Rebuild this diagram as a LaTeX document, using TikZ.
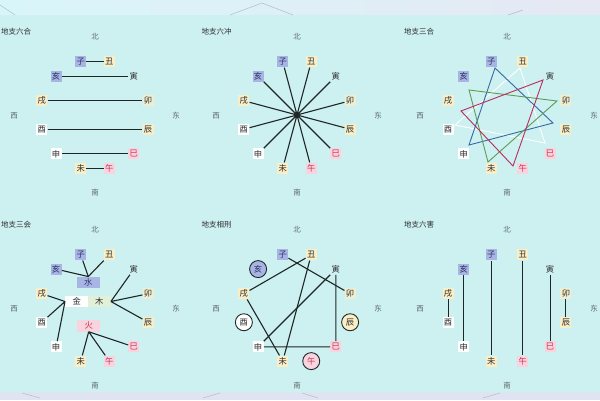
\documentclass[tikz,border=0pt]{standalone}
\usepackage{fontspec}
\setmainfont{Noto Sans CJK SC}

\definecolor{bgcol}{RGB}{205,240,240}
\definecolor{bandA}{RGB}{216,246,250}
\definecolor{bandB}{RGB}{230,232,244}
\definecolor{bandC}{RGB}{224,228,242}
\definecolor{faintcol}{RGB}{175,188,200}
\definecolor{ink}{RGB}{45,45,45}
\definecolor{dirink}{RGB}{95,105,105}
\definecolor{linkcol}{RGB}{30,38,38}
\definecolor{waterfill}{RGB}{168,180,228}
\definecolor{waterink}{RGB}{40,50,95}
\definecolor{earthfill}{RGB}{250,238,198}
\definecolor{woodfill}{RGB}{240,238,208}
\definecolor{mufill}{RGB}{226,240,216}
\definecolor{firefill}{RGB}{248,212,222}
\definecolor{fireink}{RGB}{200,45,80}
\definecolor{sanblue}{RGB}{55,105,165}
\definecolor{sangreen}{RGB}{95,155,85}
\definecolor{sanred}{RGB}{185,45,95}

% one ring of the twelve branches, with title and compass labels
\newcommand\dizhipanel[4]{%
  \node[title] (#1-title) at (#4,83) {#2};
  \node[dirn] (#1-n) at (0,78) {北};
  \node[dirn] (#1-s) at (0,-78) {南};
  \node[dirn] (#1-w) at (-#3-26,-1) {西};
  \node[dirn] (#1-e) at (#3+26,-1) {东};
  \foreach \nm/\ch/\ang/\sty in {zi/子/105/water,chou/丑/75/earth,yin/寅/45/bare,
      mao/卯/15/wood,chen/辰/345/earth,si/巳/315/fire,wu/午/285/fire,wei/未/255/earth,
      shen/申/225/metal,you/酉/195/metal,xu/戌/165/earth,hai/亥/135/water}
    \node[branch,\sty,#1\nm/.try] (#1-\nm) at (\ang:#3 and 55) {\ch};
}

\begin{document}
\begin{tikzpicture}[x=1pt,y=1pt,
  branch/.style={minimum size=11pt,inner sep=0.5pt,font=\fontsize{8.3}{8.3}\selectfont,text=ink},
  water/.style={fill=waterfill,text=waterink},
  earth/.style={fill=earthfill},
  wood/.style={fill=woodfill},
  bare/.style={},
  metal/.style={fill=white},
  fire/.style={fill=firefill,text=fireink},
  elem/.style={minimum width=23pt,minimum height=11.5pt,inner sep=0pt,
    font=\fontsize{8.3}{8.3}\selectfont,text=ink},
  title/.style={anchor=west,inner sep=0pt,font=\fontsize{7.5}{8}\selectfont,text=ink},
  dirn/.style={inner sep=0pt,font=\fontsize{7.5}{8}\selectfont,text=dirink},
  link/.style={draw=linkcol,line width=1.1pt},
  sanline/.style={line width=0.9pt},
  selfpun/.style={circle,draw=linkcol,line width=0.9pt,minimum size=17pt},
  ehai/.style=selfpun, eyou/.style=selfpun, echen/.style=selfpun, ewu/.style=selfpun,
  faint/.style={draw=faintcol,line width=0.5pt}]

  % background
  \useasboundingbox (0,0) rectangle (600,400);
  \fill[bgcol] (0,0) rectangle (600,400);
  \shade[left color=bandA,right color=bandB] (0,385) rectangle (600,400);
  \fill[bandC] (0,0) rectangle (600,8);
  \draw[faint] (0,395) -- (15,385);
  \draw[faint] (230,385) -- (262,397) -- (293,385);
  \draw[faint] (508,385) -- (523,390);
  \draw[faint] (22,7) -- (40,2);
  \draw[faint] (203,2) -- (220,7);
  \draw[faint] (302,7) -- (318,2);
  \draw[faint] (483,2) -- (500,7);

  % six harmonies
  \begin{scope}[shift={(95,285)}]
    \dizhipanel{a}{地支六合}{55}{-94}
    \draw[link] (a-zi) -- (a-chou) (a-hai) -- (a-yin) (a-xu) -- (a-mao)
      (a-you) -- (a-chen) (a-shen) -- (a-si) (a-wei) -- (a-wu);
  \end{scope}

  % six clashes
  \begin{scope}[shift={(297,285)}]
    \dizhipanel{b}{地支六冲}{55}{-95.5}
    \draw[link] (b-zi) -- (b-wu) (b-chou) -- (b-wei) (b-yin) -- (b-shen)
      (b-mao) -- (b-you) (b-chen) -- (b-xu) (b-si) -- (b-hai);
  \end{scope}

  % three harmonies
  \begin{scope}[shift={(507,285)}]
    \dizhipanel{c}{地支三合}{61}{-103}
    \foreach \nm/\vx/\vy in {zi/-12/47,chou/13/47,yin/36/35,mao/50/14,chen/46/-8,
        si/38/-28,wu/6/-51,wei/-19/-47,shen/-38/-30,you/-52/-10,xu/-46/4,hai/-38/25}
      \coordinate (c-v\nm) at (\vx,\vy);
    \draw[sanline,white] (c-vchou) -- (c-vsi) -- (c-vyou) -- cycle;
    \draw[sanline,sanblue] (c-vzi) -- (c-vchen) -- (c-vshen) -- cycle;
    \draw[sanline,sangreen] (c-vhai) -- (c-vmao) -- (c-vwei) -- cycle;
    \draw[sanline,sanred] (c-vyin) -- (c-vwu) -- (c-vxu) -- cycle;
  \end{scope}

  % three meetings
  \begin{scope}[shift={(95,92)}]
    \dizhipanel{d}{地支三会}{55}{-94}
    \node[elem,fill=waterfill,text=waterink] (d-shui) at (-6.7,25.5) {水};
    \node[elem,fill=white] (d-jin) at (-18.3,6.5) {金};
    \node[elem,fill=mufill] (d-mu) at (4.2,6.5) {木};
    \node[elem,fill=firefill,text=fireink] (d-huo) at (-6.3,-17.8) {火};
    \draw[link] (d-hai) -- (d-shui.north) (d-zi) -- (d-shui.north) (d-chou) -- (d-shui.north);
    \draw[link] (d-xu) -- (d-jin.west) (d-you) -- (d-jin.west) (d-shen) -- (d-jin.west);
    \draw[link] (d-yin) -- (d-mu.east) (d-mao) -- (d-mu.east) (d-chen) -- (d-mu.east);
    \draw[link] (d-si) -- (d-huo.south) (d-wu) -- (d-huo.south) (d-wei) -- (d-huo.south);
  \end{scope}

  % punishments
  \begin{scope}[shift={(297,92)}]
    \dizhipanel{e}{地支相刑}{55}{-95.5}
    \draw[link] (e-zi) -- (e-mao);
    \draw[link] (e-chou) -- (e-xu) -- (e-wei) -- (e-chou);
    \draw[link] (e-yin) -- (e-shen) -- (e-si) -- (e-yin);
  \end{scope}

  % six harms
  \begin{scope}[shift={(507,92)}]
    \dizhipanel{f}{地支六害}{61}{-103}
    \draw[link] (f-zi) -- (f-wei) (f-chou) -- (f-wu) (f-yin) -- (f-si)
      (f-mao) -- (f-chen) (f-hai) -- (f-shen) (f-xu) -- (f-you);
  \end{scope}
\end{tikzpicture}
\end{document}
